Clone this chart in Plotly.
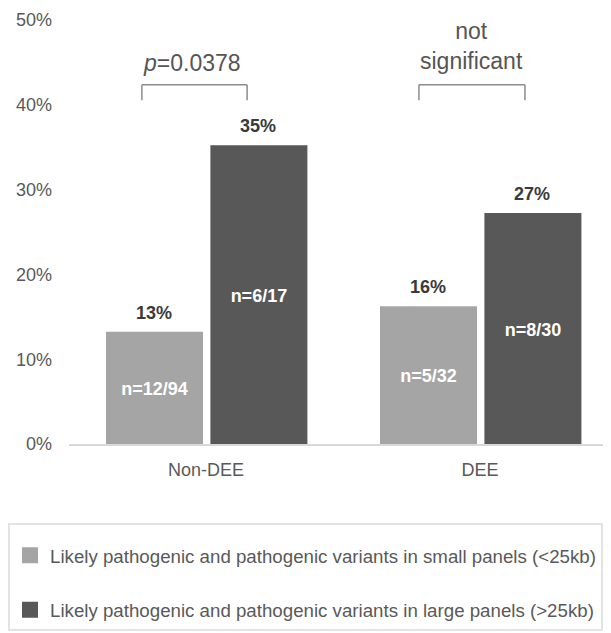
import plotly.graph_objects as go

categories = ["Non-DEE", "DEE"]
small_vals = [0.13, 0.16]
large_vals = [0.35, 0.27]
small_n = ["n=12/94", "n=5/32"]
large_n = ["n=6/17", "n=8/30"]
small_name = "Likely pathogenic and pathogenic variants in small panels (<25kb)"
large_name = "Likely pathogenic and pathogenic variants in large panels (>25kb)"
y_ticks = [0, 0.1, 0.2, 0.3, 0.4, 0.5]
comparisons = ["<i>p</i>=0.0378", "not<br>significant"]

FONT = "Liberation Sans, Arial, Helvetica, sans-serif"
LIGHT = "#a5a5a5"
DARK = "#585858"
TXT = "#595959"

# figure is drawn inside the page's 8px body margin
W, H = 603, 625
L, T = 61, 12
PLOT_W, PLOT_H = 542, 424
B = H - T - PLOT_H

LW = 4  # outline in bar colour (enlarges legend swatches)
PX = 274.0  # pixels per category
BAR_W = (97 - LW) / PX

fig = go.Figure()
fig.add_trace(go.Bar(
    x=categories, y=small_vals, name=small_name, legendgroup="a",
    width=BAR_W, offset=-0.365 + LW / 2 / PX,
    marker=dict(color=LIGHT, line=dict(color=LIGHT, width=LW)),
    text=small_n, textposition="inside", insidetextanchor="middle",
    textfont=dict(family=FONT, size=18, color="white", weight="bold"),
    hoverinfo="skip",
))
fig.add_trace(go.Bar(
    x=categories, y=large_vals, name=large_name, legendgroup="b",
    width=BAR_W, offset=0.016 + LW / 2 / PX,
    marker=dict(color=DARK, line=dict(color=DARK, width=LW)),
    text=large_n, textposition="inside", insidetextanchor="middle",
    textfont=dict(family=FONT, size=18, color="white", weight="bold"),
    hoverinfo="skip",
))

# percentage labels above bars
for cat, v in zip(categories, small_vals):
    fig.add_annotation(x=cat, y=v, xref="x", yref="y", text=f"<b>{round(v*100)}%</b>",
                       showarrow=False, xshift=-52, yshift=21, yanchor="middle",
                       font=dict(family=FONT, size=18, color="#3a3a3a"))
for cat, v in zip(categories, large_vals):
    fig.add_annotation(x=cat, y=v, xref="x", yref="y", text=f"<b>{round(v*100)}%</b>",
                       showarrow=False, xshift=52, yshift=21, yanchor="middle",
                       font=dict(family=FONT, size=18, color="#3a3a3a"))

# significance brackets
bracket_spans = [(-0.234, 0.150), (-0.223, 0.164)]
bracket_top, bracket_bottom = 0.4235, 0.4055
bl = dict(color="#8c8c8c", width=1.5)
for i, (a, b) in enumerate(bracket_spans):
    fig.add_shape(type="line", xref="x", yref="y", x0=i + a, x1=i + b,
                  y0=bracket_top, y1=bracket_top, line=bl)
    fig.add_shape(type="line", xref="x", yref="y", x0=i + a, x1=i + a,
                  y0=bracket_bottom, y1=bracket_top, line=bl)
    fig.add_shape(type="line", xref="x", yref="y", x0=i + b, x1=i + b,
                  y0=bracket_bottom, y1=bracket_top, line=bl)
label_pos = [(-0.05, 0.4495), (-0.03, 0.469)]
for i, (txt, (dx, yy)) in enumerate(zip(comparisons, label_pos)):
    fig.add_annotation(x=i + dx, y=yy, xref="x", yref="y", text=txt, showarrow=False,
                       font=dict(family=FONT, size=23, color="#555555"))

fig.update_layout(
    width=W, height=H,
    margin=dict(l=L, r=W - L - PLOT_W, t=T, b=B, autoexpand=False),
    plot_bgcolor="white", paper_bgcolor="white",
    barmode="overlay",
    font=dict(family=FONT, color=TXT),
    showlegend=True,
    legend=dict(
        xref="paper", yref="paper", x=(0 - L) / PLOT_W, y=(PLOT_H + T - 515) / PLOT_H,
        xanchor="left", yanchor="top",
        bordercolor="#e3e3e3", borderwidth=2, bgcolor="white",
        font=dict(family=FONT, size=18.7, color=TXT),
        title=dict(text=" ", font=dict(size=9)),
        tracegroupgap=27, traceorder="grouped",
    ),
    xaxis=dict(
        type="category", range=[-0.5, 1.478], showline=True, linecolor="#d9d9d9",
        linewidth=2, ticks="", showgrid=False, zeroline=False,
        tickfont=dict(family=FONT, size=18, color=TXT), ticklabelstandoff=8,
    ),
    yaxis=dict(
        range=[0, 0.5], tickvals=y_ticks, tickformat=".0%", showgrid=False,
        zeroline=False, showline=False, ticks="",
        tickfont=dict(family=FONT, size=18, color=TXT), ticklabelstandoff=16,
    ),
)

fig.write_html("out.html")
